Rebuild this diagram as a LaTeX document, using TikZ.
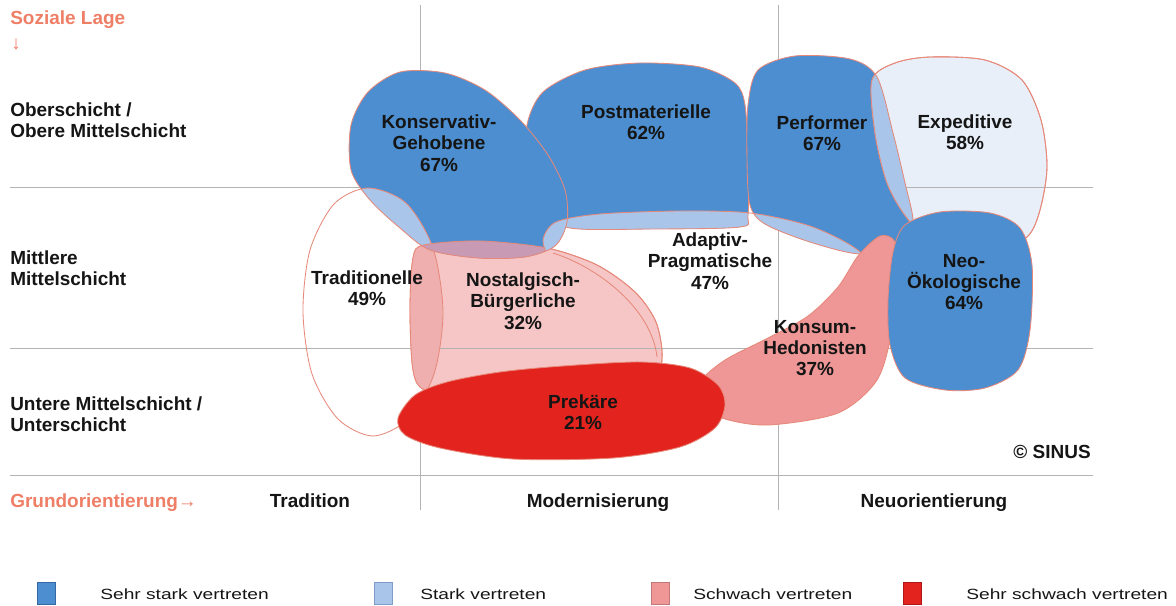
\documentclass[tikz,border=0pt]{standalone}
\usepackage{fontspec}
\setmainfont{Liberation Sans}

\definecolor{sinus-dark}{HTML}{4C8ECF}
\definecolor{sinus-dark-edge}{HTML}{3469A3}
\definecolor{sinus-light}{HTML}{A9C6EA}
\definecolor{sinus-light-edge}{HTML}{7F9CC8}
\definecolor{sinus-pale}{HTML}{E8EFF9}
\definecolor{sinus-pink}{HTML}{EF9696}
\definecolor{sinus-pink-edge}{HTML}{C07878}
\definecolor{sinus-rose}{HTML}{F6C6C6}
\definecolor{sinus-rose-dark}{HTML}{EFAFAF}
\definecolor{sinus-mauve}{HTML}{C99AB4}
\definecolor{sinus-red}{HTML}{E3241E}
\definecolor{sinus-red-edge}{HTML}{B01818}
\definecolor{sinus-edge}{HTML}{E6897A}
\definecolor{sinus-grid}{HTML}{B3B3B3}
\definecolor{sinus-axis}{HTML}{EE7E66}
\definecolor{sinus-text}{HTML}{151515}

\tikzset{
  blob-line/.style={draw=sinus-edge, line width=0.6pt},
  grid-line/.style={draw=sinus-grid, line width=0.6pt},
  milieu/.style={align=center, inner sep=0pt, text=sinus-text,
    font=\bfseries\fontsize{13.5}{15.2}\selectfont},
  lage/.style={anchor=west, align=left, inner sep=0pt, text=sinus-text,
    font=\bfseries\fontsize{13.5}{14.8}\selectfont},
  achse/.style={inner sep=0pt, text=sinus-axis, font=\bfseries\fontsize{13.5}{15}\selectfont},
  legend-box/.style={minimum width=0.45cm, minimum height=0.55cm, inner sep=0pt, line width=0.6pt},
  legend-text/.style={anchor=west, inner sep=0pt, text=sinus-text, font=\fontsize{10.5}{12}\selectfont}
}

% milieu shapes (pixel coordinates)
\newcommand{\shapeAdaptiv}{plot[smooth cycle] coordinates {(543,240) (556,222) (600,214) (680,211) (750,213) (810,226) (855,248) (875,272) (860,305) (815,345) (760,392) (690,405) (610,398) (590,330) (565,285) (550,260)}}
\newcommand{\shapeTrad}{plot[smooth cycle] coordinates {(368,188) (406,203) (433,248) (443,312) (434,374) (408,419) (373,436) (338,419) (312,374) (303,312) (310,250) (334,204)}}
\newcommand{\shapeNost}{plot[smooth cycle] coordinates {(413,258) (424,245) (480,241) (547,248) (597,265) (635,292) (656,322) (662,358) (650,385) (560,388) (470,392) (425,390) (413,370) (410,310)}}
\newcommand{\shapePost}{plot[smooth cycle] coordinates {(527,125) (543,92) (585,70) (640,63) (700,67) (735,83) (745,105) (748,160) (748,215) (740,227) (650,229) (570,228) (540,210) (528,170)}}
\newcommand{\shapeKons}{plot[smooth cycle] coordinates {(400,72) (445,73) (485,90) (520,120) (548,155) (565,190) (567,222) (555,246) (525,257) (478,258) (430,250) (400,228) (370,200) (351,170) (351,125) (368,92)}}
\newcommand{\shapePerf}{plot[smooth cycle] coordinates {(748,105) (758,70) (795,56) (850,59) (877,77) (893,133) (905,183) (913,222) (902,246) (860,254) (810,242) (765,224) (750,205) (747,160)}}
\newcommand{\shapeExp}{plot[smooth cycle] coordinates {(872,80) (895,63) (930,57) (985,60) (1022,80) (1041,120) (1047,167) (1040,210) (1027,237) (990,255) (940,250) (907,218) (887,183) (875,133)}}
\newcommand{\shapeNeo}{plot[smooth cycle] coordinates {(905,225) (940,212) (990,213) (1020,228) (1032,265) (1030,330) (1018,370) (985,388) (945,390) (905,378) (890,345) (888,300) (893,252)}}
\newcommand{\shapeKonsum}{plot[smooth cycle] coordinates {(700,382) (725,360) (768,338) (808,316) (838,287) (858,256) (880,236) (895,242) (897,275) (892,330) (877,380) (838,413) (768,425) (722,418) (702,402)}}
\newcommand{\shapePrek}{plot[smooth cycle] coordinates {(398,418) (415,395) (447,382) (500,372) (563,366) (640,362) (690,368) (718,385) (725,405) (715,428) (680,447) (613,458) (513,459) (440,448) (405,435)}}

\newcommand{\sinusgrid}{\draw [grid-line] (grid-h1-w) -- (grid-h1-e) (grid-h2-w) -- (grid-h2-e) (grid-v2-n) -- (grid-v2-s);}
\newcommand{\lightblob}[2]{%
  \fill [#2] #1;
  \begin{scope} \clip #1; \sinusgrid \end{scope}
  \draw [blob-line] #1;}
\newcommand{\lens}[3]{%
  \begin{scope}
    \clip #1;
    \fill [#3] #2;
    \draw [blob-line] #2;
  \end{scope}}

\begin{document}
\begin{tikzpicture}[x=0.025cm,y=-0.025cm]
\useasboundingbox (0,0) rectangle (1176,605);

\coordinate (grid-h1-w) at (10,187);
\coordinate (grid-h1-e) at (1093,187);
\coordinate (grid-h2-w) at (10,348);
\coordinate (grid-h2-e) at (1093,348);
\coordinate (grid-h3-w) at (10,475);
\coordinate (grid-h3-e) at (1093,475);
\coordinate (grid-v1-n) at (420,5);
\coordinate (grid-v1-s) at (420,510);
\coordinate (grid-v2-n) at (778,5);
\coordinate (grid-v2-s) at (778,510);

\draw [grid-line] (grid-h1-w) -- (grid-h1-e);
\draw [grid-line] (grid-h2-w) -- (grid-h2-e);
\draw [grid-line] (grid-h3-w) -- (grid-h3-e);
\draw [grid-line] (grid-v1-n) -- (grid-v1-s);
\draw [grid-line] (grid-v2-n) -- (grid-v2-s);

%%%%%%%%%%%%%%%%%%%%%%%%%%%%%%%%%%%%%%%%%%%%%%%%%%%%%%%%%%%%%%%%%

\lightblob{\shapeAdaptiv}{white}
\lightblob{\shapeTrad}{white}

\lightblob{\shapeNost}{sinus-rose}
\lens{\shapeNost}{\shapeTrad}{sinus-rose-dark}
\draw [blob-line] \shapeNost;
\draw [blob-line] (553,253) .. controls (600,268) and (652,310) .. (657,357);

\fill [sinus-dark] \shapePost;
\lens{\shapePost}{\shapeAdaptiv}{sinus-light}
\draw [blob-line] \shapePost;

\fill [sinus-dark] \shapeKons;
\lens{\shapeKons}{\shapeTrad}{sinus-light}
\lens{\shapeKons}{\shapeNost}{sinus-mauve}
\lens{\shapeKons}{\shapeAdaptiv}{sinus-light}
\draw [blob-line] \shapeKons;

\fill [sinus-dark] \shapePerf;
\lens{\shapePerf}{\shapeAdaptiv}{sinus-light}
\draw [blob-line] \shapePerf;

\lightblob{\shapeExp}{sinus-pale}
\lens{\shapeExp}{\shapePerf}{sinus-light}
\draw [blob-line] \shapeExp;

\fill [sinus-pink] \shapeKonsum;
\draw [blob-line] \shapeKonsum;

\fill [sinus-dark] \shapeNeo;
\draw [blob-line] \shapeNeo;

\fill [sinus-red] \shapePrek;
\draw [blob-line] \shapePrek;

%%%%%%%%%%%%%%%%%%%%%%%%%%%%%%%%%%%%%%%%%%%%%%%%%%%%%%%%%%%%%%%%%

\node [milieu] (mil-kons) at (439,143) {Konservativ-\\Gehobene\\67\%};
\node [milieu] (mil-post) at (646,122) {Postmaterielle\\62\%};
\node [milieu] (mil-perf) at (822,133) {Performer\\67\%};
\node [milieu] (mil-exp) at (965,132) {Expeditive\\58\%};
\node [milieu] (mil-trad) at (367,288) {Traditionelle\\49\%};
\node [milieu] (mil-nost) at (523,301) {Nostalgisch-\\Bürgerliche\\32\%};
\node [milieu] (mil-adap) at (710,261) {Adaptiv-\\Pragmatische\\47\%};
\node [milieu] (mil-neo) at (964,282) {Neo-\\Ökologische\\64\%};
\node [milieu] (mil-hed) at (815,348) {Konsum-\\Hedonisten\\37\%};
\node [milieu] (mil-prek) at (583,412) {Prekäre\\21\%};

\node [achse, anchor=west] (lage-title) at (10,20) {Soziale Lage};
\node [achse, anchor=west] (lage-arrow) at (11,44) {↓};
\node [lage] (lage-ober) at (10,120) {Oberschicht /\\Obere Mittelschicht};
\node [lage] (lage-mitte) at (10,268) {Mittlere\\Mittelschicht};
\node [lage] (lage-unter) at (10,414) {Untere Mittelschicht /\\Unterschicht};

\node [achse, anchor=base west] (grund-title) at (10,507) {Grundorientierung→};
\node [lage, anchor=base] (grund-trad) at (310,507) {Tradition};
\node [lage, anchor=base] (grund-mod) at (598,507) {Modernisierung};
\node [lage, anchor=base] (grund-neu) at (934,507) {Neuorientierung};
\node [lage, anchor=east] (sinus-copy) at (1091,452) {© SINUS};

%%%%%%%%%%%%%%%%%%%%%%%%%%%%%%%%%%%%%%%%%%%%%%%%%%%%%%%%%%%%%%%%%

\node [legend-box, fill=sinus-dark, draw=sinus-dark-edge] (leg-sehr-stark) at (46,593) {};
\node [legend-text] (leg-sehr-stark-text) at (100,594) {\scalebox{1.3}[1]{Sehr stark vertreten}};
\node [legend-box, fill=sinus-light, draw=sinus-light-edge] (leg-stark) at (383,593) {};
\node [legend-text] (leg-stark-text) at (420,594) {\scalebox{1.3}[1]{Stark vertreten}};
\node [legend-box, fill=sinus-pink, draw=sinus-pink-edge] (leg-schwach) at (660,593) {};
\node [legend-text] (leg-schwach-text) at (693,594) {\scalebox{1.3}[1]{Schwach vertreten}};
\node [legend-box, fill=sinus-red, draw=sinus-red-edge] (leg-sehr-schwach) at (912,593) {};
\node [legend-text] (leg-sehr-schwach-text) at (966,594) {\scalebox{1.3}[1]{Sehr schwach vertreten}};

\end{tikzpicture}
\end{document}
